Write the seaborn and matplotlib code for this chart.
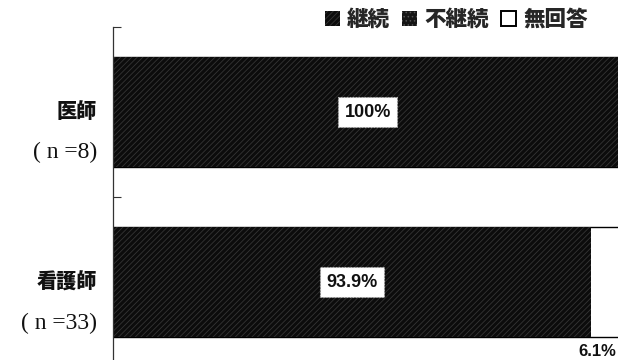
import matplotlib
matplotlib.use("Agg")
import matplotlib.pyplot as plt
import matplotlib.patches as mpatches
import matplotlib.transforms as mtransforms
import seaborn as sns
import pandas as pd

# Survey responses by profession (percent of respondents)
groups = ["医師", "看護師"]
group_n = ["8", "33"]
continue_pct = [100.0, 93.9]
discontinue_pct = [0.0, 0.0]
no_answer_pct = [0.0, 6.1]
series_names = ["継続", "不継続", "無回答"]

sns.set_theme(style="white")
plt.rcParams["font.family"] = ["Noto Sans CJK JP", "DejaVu Sans"]
plt.rcParams["hatch.linewidth"] = 0.6

df = pd.DataFrame({
    "group": groups,
    "continue": continue_pct,
    "discontinue": discontinue_pct,
    "no_answer": no_answer_pct,
})
df["cum_cont"] = df["continue"]
df["cum_disc"] = df["cum_cont"] + df["discontinue"]
df["cum_none"] = df["cum_disc"] + df["no_answer"]

fig = plt.figure(figsize=(6.18, 3.60), dpi=100)
ax = fig.add_axes([0.183, -0.02, 0.824, 0.945])

bar_w = 0.65
# stacked bars drawn back to front from cumulative totals
sns.barplot(data=df, y="group", x="cum_none", orient="h", width=bar_w,
            color="white", edgecolor="black", linewidth=1.0, ax=ax)
sns.barplot(data=df, y="group", x="cum_disc", orient="h", width=bar_w,
            color="#151515", edgecolor="#151515", linewidth=0.0, ax=ax)
sns.barplot(data=df, y="group", x="cum_cont", orient="h", width=bar_w,
            color="#0c0c0c", edgecolor="#0c0c0c", linewidth=0.0, ax=ax)

n_each = len(groups)
bars = ax.patches
for p in bars[n_each:2 * n_each]:
    p.set_hatch("....")
    p.set_edgecolor("#444444")
for p in bars[2 * n_each:]:
    p.set_facecolor("#0c0c0c")
    p.set_hatch("//////")
    p.set_edgecolor("#353535")
    p.set_linewidth(0.0)

ax.set_xlim(0, 100)
ax.set_ylim(1.5, -0.5)
ax.set_xlabel("")
ax.set_ylabel("")
ax.set_xticks([])
ax.set_yticks([-0.5, 0.5, 1.5])
ax.set_yticklabels([])
ax.tick_params(axis="y", direction="in", length=6, width=0.8, color="#333333", left=True)
for side in ["top", "right", "bottom"]:
    ax.spines[side].set_visible(False)
ax.spines["left"].set_color("#333333")
ax.spines["left"].set_linewidth(0.9)

# category labels: name in bold, sample size in serif below
lab_tr = mtransforms.blended_transform_factory(ax.transAxes, ax.transData)
for i, (g, n) in enumerate(zip(groups, group_n)):
    ax.text(-0.032, i, g, transform=lab_tr, ha="right", va="center",
            fontsize=14.5, fontweight="heavy", color="#111111")
    ax.text(-0.032, i + 0.24, f"( n ={n})", transform=lab_tr, ha="right", va="center",
            fontsize=17, family=["Liberation Serif", "DejaVu Serif"], color="#111111")

# value labels
num_font = ["Liberation Sans Narrow", "Liberation Sans", "DejaVu Sans"]
for i in range(n_each):
    c = continue_pct[i]
    ax.text(c / 2, i, f"{c:g}%", ha="center", va="center", fontsize=13,
            fontweight="bold", family=num_font, color="#111111",
            bbox=dict(boxstyle="square,pad=0.35", facecolor="white",
                      edgecolor="#bbbbbb", linestyle=":", linewidth=0.8))
    na = no_answer_pct[i]
    if na > 0:
        ax.annotate(f"{na:g}%", xy=(continue_pct[i] + discontinue_pct[i] + na / 2, i + bar_w / 2),
                    xytext=(-7, -10), textcoords="offset points", ha="center", va="center",
                    fontsize=12, fontweight="bold", family=num_font, color="#111111")

# legend
handles = [
    mpatches.Patch(facecolor="#0c0c0c", edgecolor="#353535", hatch="//////", linewidth=0),
    mpatches.Patch(facecolor="#151515", edgecolor="#555555", hatch="....", linewidth=0),
    mpatches.Patch(facecolor="white", edgecolor="black", linewidth=1.4),
]
leg = fig.legend(handles, series_names, loc="upper right", bbox_to_anchor=(0.983, 1.032),
                 ncol=3, frameon=False, handlelength=0.7, handleheight=0.7,
                 handletextpad=0.35, columnspacing=0.55,
                 prop=dict(family=["Noto Sans CJK JP"], weight="heavy", size=15.5))

fig.savefig("out.png", dpi=100, facecolor="white")
